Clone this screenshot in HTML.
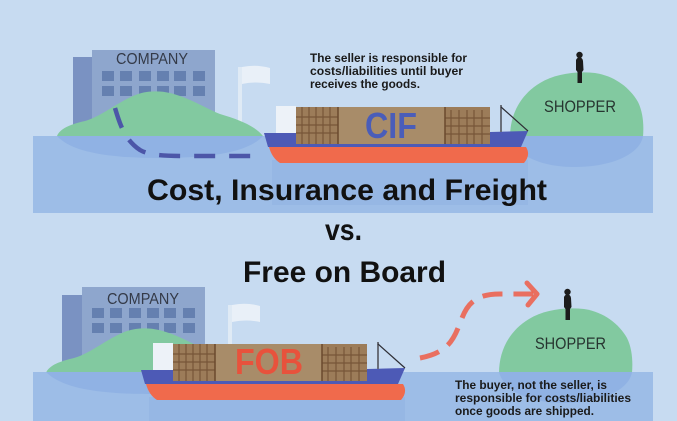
<!DOCTYPE html>
<html><head><meta charset="utf-8"><style>
html,body{margin:0;padding:0;background:#c7dbf1;}
svg{display:block;}
</style></head><body>
<svg width="677" height="421" viewBox="0 0 677 421" xmlns="http://www.w3.org/2000/svg" font-family="'Liberation Sans', sans-serif">
<defs>
  <g id="ship">
    <rect x="272" y="160" width="256" height="45" fill="#8fb0e0" opacity="0.45"/>
    <path d="M269,147 L526,147 Q531,155 524,163 L280,163 Q272,158 269,147 Z" fill="#f06a4c"/>
    <polygon points="264,133 300,133 300,144 470,144 490,132 528,131 521,147 268,147" fill="#4d5ab6"/>
    <rect x="276" y="106" width="20" height="27" fill="#edf2f8"/>
    <rect x="296" y="107" width="194" height="37" fill="#a88c69"/>
    <rect x="296" y="107" width="42" height="37" fill="#9c7c59"/>
    <rect x="445" y="107" width="45" height="37" fill="#9c7c59"/>
    <g stroke="#6b4a2e" stroke-width="1.2" opacity="0.75">
      <line x1="302" y1="107" x2="302" y2="144"/><line x1="309" y1="107" x2="309" y2="144"/>
      <line x1="316" y1="107" x2="316" y2="144"/><line x1="323" y1="107" x2="323" y2="144"/>
      <line x1="330" y1="107" x2="330" y2="144"/>
      <line x1="296" y1="117" x2="338" y2="117"/><line x1="296" y1="125" x2="338" y2="125"/>
      <line x1="296" y1="133" x2="338" y2="133"/>
      <line x1="451" y1="110" x2="451" y2="144"/><line x1="459" y1="110" x2="459" y2="144"/>
      <line x1="467" y1="110" x2="467" y2="144"/><line x1="474" y1="110" x2="474" y2="144"/>
      <line x1="482" y1="110" x2="482" y2="144"/>
      <line x1="445" y1="118" x2="490" y2="118"/><line x1="445" y1="126" x2="490" y2="126"/>
      <line x1="445" y1="134" x2="490" y2="134"/>
    </g>
    <line x1="338" y1="107" x2="338" y2="144" stroke="#6b4a2e" stroke-width="1.5"/>
    <line x1="445" y1="107" x2="445" y2="144" stroke="#6b4a2e" stroke-width="1.5"/>
    <line x1="501" y1="105" x2="501" y2="132" stroke="#6a6f7a" stroke-width="2"/>
    <line x1="501" y1="107" x2="528" y2="131" stroke="#2e2e35" stroke-width="1.2"/>
  </g>
  <g id="person">
    <circle cx="579.5" cy="55" r="3.2" fill="#1c1c1c"/>
    <path d="M576,60 Q577,57.5 579.5,57.5 Q582.5,57.5 583,61 L583.5,70 L582,72 L582,83 L577.5,83 L577.5,72 L576,70 Z" fill="#1c1c1c"/>
  </g>
</defs>

<!-- TOP SECTION -->
<!-- building -->
<rect x="73" y="57" width="19" height="80" fill="#7a92c2"/>
<rect x="92" y="50" width="123" height="87" fill="#8ea6cd"/>
<g fill="#6580b0">
  <rect x="102" y="71" width="12" height="10"/><rect x="120" y="71" width="12" height="10"/>
  <rect x="139" y="71" width="12" height="10"/><rect x="157" y="71" width="12" height="10"/>
  <rect x="174" y="71" width="12" height="10"/><rect x="193" y="71" width="12" height="10"/>
  <rect x="102" y="86" width="12" height="10"/><rect x="120" y="86" width="12" height="10"/>
  <rect x="139" y="86" width="12" height="10"/><rect x="157" y="86" width="12" height="10"/>
  <rect x="174" y="86" width="12" height="10"/><rect x="193" y="86" width="12" height="10"/>
</g>
<text x="116" y="64" font-size="15.5" fill="#343a48" textLength="72" lengthAdjust="spacingAndGlyphs">COMPANY</text>
<!-- flag -->
<rect x="238" y="67" width="4" height="60" fill="#e3ecf6" opacity="0.85"/>
<path d="M242,67 Q256,64 270,68 L270,84 Q256,81 242,84 Z" fill="#eef3f9" opacity="0.85"/>
<!-- hill -->
<path d="M57,136 C60,128 72,124 85,121 C100,117 115,104 133,96 C143,91 158,90 170,93 C190,98 205,108 220,114 C240,120 255,126 263,136 Z" fill="#82c9a0"/>
<!-- shopper island -->
<path d="M510,137 C510,115 520,95 540,83 C555,74 575,71 595,73 C615,76 630,88 638,102 C643,112 644,125 643,137 Z" fill="#82c9a0"/>
<use href="#person"/>
<text x="544" y="112" font-size="16.5" fill="#273530" textLength="72" lengthAdjust="spacingAndGlyphs">SHOPPER</text>
<!-- water -->
<rect x="33" y="136" width="620" height="77" fill="#9dbde7"/>
<path d="M57,136 L263,136 C250,150 220,158 160,158 C100,158 70,150 57,136 Z" fill="#8aaee2" opacity="0.7"/>
<path d="M510,136 L643,136 C640,155 610,167 575,167 C540,167 515,155 510,136 Z" fill="#8aaee2" opacity="0.7"/>
<!-- dashed path -->
<path d="M115,108 C120,125 125,140 140,150 C150,156 170,156 190,156 L258,156" fill="none" stroke="#4c56a8" stroke-width="4.5" stroke-dasharray="21 14"/>
<!-- ship -->
<use href="#ship"/>
<text x="365" y="138" font-size="36" font-weight="bold" fill="#4a5db9" textLength="52" lengthAdjust="spacingAndGlyphs">CIF</text>
<!-- top text -->
<g font-size="12" font-weight="bold" fill="#1a1a1a">
  <text x="310" y="62" textLength="157" lengthAdjust="spacingAndGlyphs">The seller is responsible for</text>
  <text x="310" y="75" textLength="153" lengthAdjust="spacingAndGlyphs">costs/liabilities until buyer</text>
  <text x="310" y="88" textLength="110" lengthAdjust="spacingAndGlyphs">receives the goods.</text>
</g>

<!-- TITLE -->
<g font-weight="bold" fill="#111111" font-size="30">
  <text x="147" y="200" textLength="400" lengthAdjust="spacingAndGlyphs">Cost, Insurance and Freight</text>
  <text x="325" y="240" textLength="37" lengthAdjust="spacingAndGlyphs">vs.</text>
  <text x="243" y="282" textLength="203" lengthAdjust="spacingAndGlyphs">Free on Board</text>
</g>

<!-- BOTTOM SECTION -->
<rect x="62" y="295" width="20" height="78" fill="#7a92c2"/>
<rect x="82" y="287" width="123" height="86" fill="#8ea6cd"/>
<g fill="#6580b0">
  <rect x="92" y="308" width="12" height="10"/><rect x="110" y="308" width="12" height="10"/>
  <rect x="129" y="308" width="12" height="10"/><rect x="147" y="308" width="12" height="10"/>
  <rect x="164" y="308" width="12" height="10"/><rect x="183" y="308" width="12" height="10"/>
  <rect x="92" y="323" width="12" height="10"/><rect x="110" y="323" width="12" height="10"/>
  <rect x="129" y="323" width="12" height="10"/><rect x="147" y="323" width="12" height="10"/>
  <rect x="164" y="323" width="12" height="10"/><rect x="183" y="323" width="12" height="10"/>
</g>
<text x="107" y="304" font-size="15.5" fill="#343a48" textLength="72" lengthAdjust="spacingAndGlyphs">COMPANY</text>
<rect x="228" y="305" width="4" height="40" fill="#e3ecf6" opacity="0.85"/>
<path d="M232,305 Q246,302 260,306 L260,322 Q246,319 232,322 Z" fill="#eef3f9" opacity="0.85"/>
<path d="M46,373 C49,365 61,361 74,358 C89,354 104,341 122,333 C132,328 147,327 159,330 C179,335 194,345 209,351 C229,357 244,363 252,373 Z" fill="#82c9a0"/>
<path d="M499,373 C499,351 509,331 529,319 C544,310 564,307 584,309 C604,312 619,324 627,338 C632,348 633,361 632,373 Z" fill="#82c9a0"/>
<use href="#person" transform="translate(-12,237)"/>
<text x="535" y="349" font-size="16.5" fill="#273530" textLength="71" lengthAdjust="spacingAndGlyphs">SHOPPER</text>
<rect x="33" y="372" width="620" height="49" fill="#9dbde7"/>
<path d="M46,372 L252,372 C240,386 210,394 150,394 C90,394 60,386 46,372 Z" fill="#8aaee2" opacity="0.7"/>
<path d="M499,372 L632,372 C629,391 599,403 564,403 C529,403 504,391 499,372 Z" fill="#8aaee2" opacity="0.7"/>
<use href="#ship" transform="translate(-123,237)"/>
<text x="235" y="374" font-size="36" font-weight="bold" fill="#e8523c" textLength="68" lengthAdjust="spacingAndGlyphs">FOB</text>
<!-- red arrow -->
<path d="M420,358 C452,352 455,335 462,318 C469,300 480,294 500,294 L533,294" fill="none" stroke="#ec6350" stroke-width="5" stroke-dasharray="20 11" opacity="0.9"/>
<path d="M527,283 L537,294 L528,305" fill="none" stroke="#ec6350" stroke-width="5" stroke-linecap="round" stroke-linejoin="round" opacity="0.9"/>
<!-- bottom text -->
<g font-size="12" font-weight="bold" fill="#1a1a1a">
  <text x="455" y="389" textLength="152" lengthAdjust="spacingAndGlyphs">The buyer, not the seller, is</text>
  <text x="455" y="402" textLength="176" lengthAdjust="spacingAndGlyphs">responsible for costs/liabilities</text>
  <text x="455" y="415" textLength="139" lengthAdjust="spacingAndGlyphs">once goods are shipped.</text>
</g>
</svg>
</body></html>
